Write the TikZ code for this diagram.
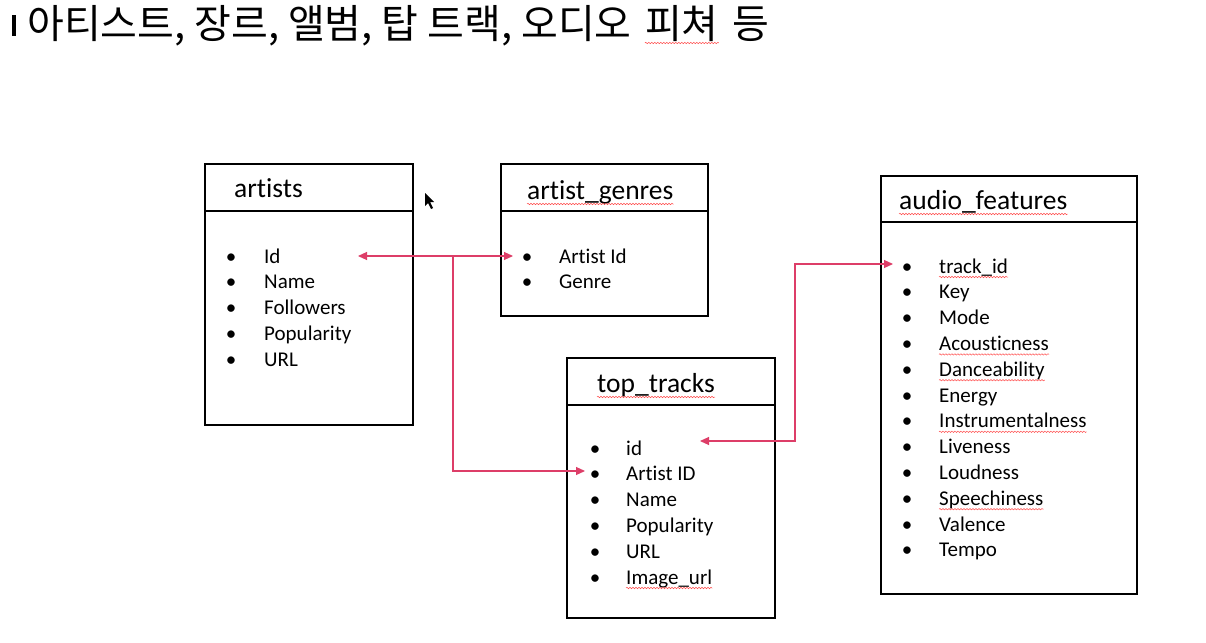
\documentclass[tikz,border=0pt]{standalone}
\usepackage{fontspec}
\setmainfont{Carlito}[Ligatures=NoCommon]
\newfontfamily\kr{Noto Sans CJK KR}
\usetikzlibrary{arrows.meta, positioning, decorations.pathmorphing}
\definecolor{linkred}{RGB}{221,62,104}

\tikzset{
  tbl/.style={draw, line width=1.6pt, inner sep=0pt, anchor=north west},
  head/.style={font=\fontsize{27.5}{30}\selectfont, inner sep=0pt, anchor=base west},
  item/.style={font=\fontsize{21}{24}\selectfont, inner sep=0pt, anchor=base west},
  dot/.style={font=\fontsize{21}{24}\selectfont, inner sep=0pt, anchor=base},
  ttlfont/.style={font=\kr\fontsize{40}{42}\selectfont, inner sep=0pt, anchor=base west},
  link/.style={draw=linkred, line width=1.1pt, -{Triangle[length=9pt,width=8pt]}},
  spell/.style={draw=red!70, line width=0.5pt,
    decorate, decoration={snake, amplitude=0.7pt, segment length=3pt}}
}

\begin{document}
\begin{tikzpicture}[x=1pt, y=-1pt]
\useasboundingbox (0,0) rectangle (1206,642);
\fill[white] (0,0) rectangle (1206,642);

% title
\fill (12,15) rectangle (16,36);
\node[ttlfont] (ttl) at (27,38) {아티스트, 장르, 앨범, 탑 트랙, 오디오};
\node[ttlfont] (feat) at ([xshift=13pt]ttl.base east) {피쳐};
\node[ttlfont] (etc) at ([xshift=13pt]feat.base east) {등};
\draw[spell] ([yshift=-5pt]feat.base west) -- ([yshift=-5pt]feat.base east);

% tables
\node[tbl, minimum width=208, minimum height=261] (artists) at (204,163) {};
\node[tbl, minimum width=207, minimum height=152] (genres) at (500,163) {};
\node[tbl, minimum width=208, minimum height=260] (tracks) at (566,357) {};
\node[tbl, minimum width=256, minimum height=418] (features) at (880,175) {};
\draw[line width=1.6pt] ([yshift=-48pt]artists.north west) -- ([yshift=-48pt]artists.north east);
\draw[line width=1.6pt] ([yshift=-48pt]genres.north west) -- ([yshift=-48pt]genres.north east);
\draw[line width=1.6pt] ([yshift=-48pt]tracks.north west) -- ([yshift=-48pt]tracks.north east);
\draw[line width=1.6pt] ([yshift=-47pt]features.north west) -- ([yshift=-47pt]features.north east);

\node[head] (hartists) at (234,197) {artists};
\node[head] (hgenres) at (527,199) {artist\_genres};
\node[head] (htracks) at (597,392) {top\_tracks};
\node[head] (hfeatures) at (899,209) {audio\_features};
\draw[spell] ([yshift=-5pt]hgenres.base west) -- ([yshift=-5pt]hgenres.base east);
\draw[spell] ([yshift=-5pt]htracks.base west) -- ([yshift=-5pt]htracks.base east);
\draw[spell] ([yshift=-5pt]hfeatures.base west) -- ([yshift=-5pt]hfeatures.base east);

% fields
\foreach \t [count=\i] in {Id, Name, Followers, Popularity, URL} {
  \node[dot] (ad\i) at (231, {263+25.8*(\i-1)}) {•};
  \node[item] (a\i) at (264, {263+25.8*(\i-1)}) {\t};
}
\foreach \t [count=\i] in {Artist Id, Genre} {
  \node[dot] (gd\i) at (527, {263+25.8*(\i-1)}) {•};
  \node[item] (g\i) at (559, {263+25.8*(\i-1)}) {\t};
}
\foreach \t/\w [count=\i] in {id/0, Artist ID/0, Name/0, Popularity/0, URL/0, Image\_url/1} {
  \node[dot] (td\i) at (595, {455+25.8*(\i-1)}) {•};
  \node[item] (t\i) at (626, {455+25.8*(\i-1)}) {\t};
  \ifnum\w=1 \draw[spell] ([yshift=-4pt]t\i.base west) -- ([yshift=-4pt]t\i.base east); \fi
}
\foreach \t/\w [count=\i] in {track\_id/1, Key/0, Mode/0, Acousticness/1, Danceability/1, Energy/0,
    Instrumentalness/1, Liveness/0, Loudness/0, Speechiness/1, Valence/0, Tempo/0} {
  \node[dot] (fd\i) at (907, {273+25.8*(\i-1)}) {•};
  \node[item] (f\i) at (939, {273+25.8*(\i-1)}) {\t};
  \ifnum\w=1 \draw[spell] ([yshift=-4pt]f\i.base west) -- ([yshift=-4pt]f\i.base east); \fi
}

% links
\coordinate (artId) at (358,256);
\coordinate (genId) at (513,256);
\coordinate (split) at (453,256);
\coordinate (trkArtist) at (585,471);
\coordinate (trkId) at (700,441);
\coordinate (featId) at (893,264);
\draw[link, {Triangle[length=9pt,width=8pt]}-{Triangle[length=9pt,width=8pt]}] (artId) -- (genId);
\draw[link] (split) |- (trkArtist);
\draw[link, {Triangle[length=9pt,width=8pt]}-{Triangle[length=9pt,width=8pt]}] (trkId) -- ++(95,0) |- (featId);

% mouse pointer
\fill (425,193) -- (425,206) -- (428,203) -- (431,209) -- (433,208) -- (430,202) -- (434,202) -- cycle;
\end{tikzpicture}
\end{document}
